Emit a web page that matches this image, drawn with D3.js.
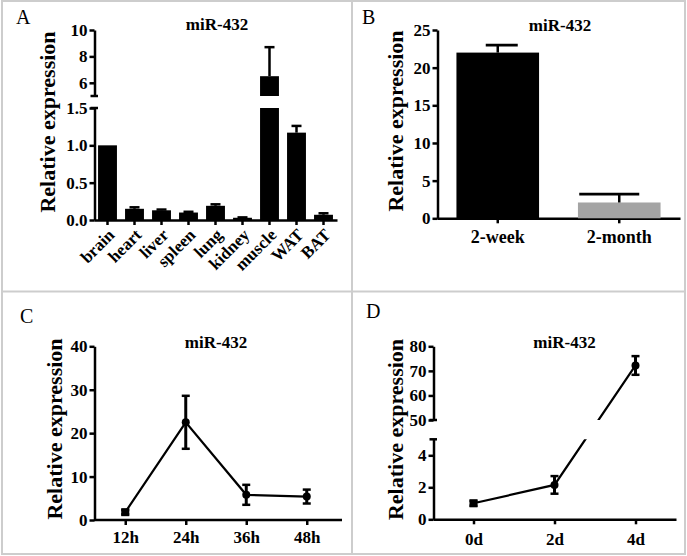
<!DOCTYPE html>
<html><head><meta charset="utf-8">
<script src="https://cdn.jsdelivr.net/npm/d3@7"></script>
<style>
body{margin:0;background:#fff}
svg{display:block}
svg text{font-family:"Liberation Serif","Times New Roman",serif;}
</style>
</head><body><svg id="c" width="687" height="556"></svg>
<script>
// ---------- DATA ----------
const tissues = ["brain","heart","liver","spleen","lung","kidney","muscle","WAT","BAT"];
const tissueValues = [1.0, 0.15, 0.13, 0.10, 0.19, 0.03, 6.5, 1.17, 0.07];
const tissueErrors = [0, 0.02, 0.01, 0.01, 0.02, 0.005, 2.2, 0.09, 0.02];

const ageGroups = ["2-week", "2-month"];
const ageValues = [22.0, 2.1];
const ageErrors = [1.0, 1.1];

const hours = ["12h", "24h", "36h", "48h"];
const hourValues = [1.8, 22.5, 5.8, 5.4];
const hourErrors = [0.5, 6.1, 2.3, 1.6];

const days = ["0d", "2d", "4d"];
const dayValues = [1.0, 2.15, 72.2];
const dayErrors = [0.15, 0.55, 3.8];

const ticksAUpper = [6, 8, 10];
const ticksALower = [0, 0.5, 1.0, 1.5];
const ticksB = [0, 5, 10, 15, 20, 25];
const ticksC = [0, 10, 20, 30, 40];
const ticksDUpper = [50, 60, 70, 80];
const ticksDLower = [0, 2, 4];

const titleText = "miR-432";
const yLabelText = "Relative expression";

// ---------- SETUP ----------
const FONT = "Liberation Serif";
const svg = d3.select("#c");
const border = "#cdcdcd";

svg.append("rect").attr("x", 2).attr("y", 1).attr("width", 683).attr("height", 553)
  .attr("fill", "none").attr("stroke", border).attr("stroke-width", 2);
svg.append("line").attr("x1", 352).attr("x2", 352).attr("y1", 1).attr("y2", 554)
  .attr("stroke", border).attr("stroke-width", 2);
svg.append("line").attr("x1", 2).attr("x2", 685).attr("y1", 291.5).attr("y2", 291.5)
  .attr("stroke", border).attr("stroke-width", 2);

function styleAxis(g, fs) {
  g.attr("font-family", FONT).attr("font-size", fs).attr("font-weight", "bold");
  g.selectAll(".domain").attr("stroke", "#000").attr("stroke-width", 2.5);
  g.selectAll(".tick line").attr("stroke", "#000").attr("stroke-width", 2.5);
  g.selectAll(".tick text").attr("fill", "#000");
}
function yAxis(scale, vals, fmt, x, fs) {
  const g = svg.append("g").attr("transform", `translate(${x},0)`)
    .call(d3.axisLeft(scale).tickValues(vals).tickFormat(fmt).tickSize(5).tickPadding(2).tickSizeOuter(0));
  styleAxis(g, fs);
  return g;
}
function hline(x1, x2, y, w) {
  svg.append("line").attr("x1", x1).attr("x2", x2).attr("y1", y).attr("y2", y)
    .attr("stroke", "#000").attr("stroke-width", w);
}
function vline(x, y1, y2, w) {
  svg.append("line").attr("x1", x).attr("x2", x).attr("y1", y1).attr("y2", y2)
    .attr("stroke", "#000").attr("stroke-width", w);
}
function text(t, x, y, fs, opts = {}) {
  return svg.append("text").attr("x", x).attr("y", y).text(t)
    .attr("font-family", FONT).attr("font-size", fs)
    .attr("font-weight", opts.weight || "bold")
    .attr("text-anchor", opts.anchor || "start").attr("fill", "#000");
}
function yLabel(x, y, fs) {
  svg.append("text").attr("transform", `translate(${x},${y}) rotate(-90)`)
    .attr("text-anchor", "middle").attr("font-family", FONT).attr("font-size", fs)
    .attr("font-weight", "bold").attr("fill", "#000").text(yLabelText);
}

// ---------- PANEL A ----------
const yAUp = d3.scaleLinear().domain([5, 10]).range([96, 30]);
const yALow = d3.scaleLinear().domain([0, 1.5]).range([220, 108]);
const xA = d3.scaleBand().domain(tissues).range([94, 337]).paddingInner(0.3).paddingOuter(0.15);
const axA = 94.5;
yAxis(yAUp, ticksAUpper, d3.format("d"), axA, 17);
yAxis(yALow, ticksALower, d3.format(".1f"), axA, 17);
hline(axA - 4, axA + 3.5, yAUp(5), 2.5);
hline(axA - 4, axA + 3.5, yALow(1.5), 2.5);

const gxA = svg.append("g").attr("transform", `translate(0,${yALow(0)})`)
  .call(d3.axisBottom(xA).tickSize(5).tickSizeOuter(0));
styleAxis(gxA, 17);
gxA.selectAll(".tick text").attr("text-anchor", "end").attr("dy", null)
  .attr("y", 0).attr("transform", "translate(8,16) rotate(-45)");

tissues.forEach((t, i) => {
  const v = tissueValues[i], e = tissueErrors[i];
  const x0 = xA(t), w = xA.bandwidth(), cx = x0 + w / 2;
  if (v <= 1.5) {
    svg.append("rect").attr("x", x0).attr("y", yALow(v)).attr("width", w)
      .attr("height", yALow(0) - yALow(v)).attr("fill", "#000");
    if (e > 0) {
      vline(cx, yALow(v), yALow(v + e), 2.5);
      hline(cx - 5, cx + 5, yALow(v + e), 2.5);
    }
  } else {
    svg.append("rect").attr("x", x0).attr("y", yALow(1.5)).attr("width", w)
      .attr("height", yALow(0) - yALow(1.5)).attr("fill", "#000");
    svg.append("rect").attr("x", x0).attr("y", yAUp(v)).attr("width", w)
      .attr("height", yAUp(5) - yAUp(v)).attr("fill", "#000");
    vline(cx, yAUp(v), yAUp(v + e), 2.5);
    hline(cx - 5, cx + 5, yAUp(v + e), 2.5);
  }
});
text(titleText, 217, 29.5, 17, { anchor: "middle" });
text("A", 16, 23.5, 20, { weight: "normal" });
yLabel(55, 122, 22);

// ---------- PANEL B ----------
const yB = d3.scaleLinear().domain([0, 25]).range([218.3, 30]);
const xB = d3.scaleBand().domain(ageGroups).range([437, 680]).paddingInner(0.32).paddingOuter(0.16);
const axB = 437.5;
yAxis(yB, ticksB, d3.format("d"), axB, 17);
const gxB = svg.append("g").attr("transform", `translate(0,${yB(0)})`)
  .call(d3.axisBottom(xB).tickSize(5).tickPadding(7).tickSizeOuter(0));
styleAxis(gxB, 18);
const barColorsB = ["#000000", "#a4a4a4"];
const capB = [32, 60];
const capShiftB = [4, -10];
ageGroups.forEach((g, i) => {
  const v = ageValues[i], e = ageErrors[i];
  const x0 = xB(g), w = xB.bandwidth(), cx = x0 + w / 2;
  svg.append("rect").attr("x", x0).attr("y", yB(v)).attr("width", w)
    .attr("height", yB(0) - yB(v)).attr("fill", barColorsB[i]);
  vline(cx, yB(v), yB(v + e), 2.5);
  const cc = cx + capShiftB[i];
  hline(cc - capB[i] / 2, cc + capB[i] / 2, yB(v + e), 2.8);
});
text(titleText, 560, 30.5, 17, { anchor: "middle" });
text("B", 362, 23.5, 20, { weight: "normal" });
yLabel(403, 121, 22);

// ---------- PANEL C ----------
const yC = d3.scaleLinear().domain([0, 40]).range([520, 346.3]);
const xC = d3.scalePoint().domain(hours).range([95, 337]).padding(0.5);
const axC = 94.5;
yAxis(yC, ticksC, d3.format("d"), axC, 17);
const gxC = svg.append("g").attr("transform", `translate(0,${yC(0)})`)
  .call(d3.axisBottom(xC).tickSize(5).tickPadding(6).tickSizeOuter(0));
styleAxis(gxC, 17);
gxC.select(".domain").remove();
hline(94, 342, yC(0), 2.5);
svg.append("path").datum(hours.map((h, i) => [xC(h), yC(hourValues[i])]))
  .attr("d", d3.line()).attr("fill", "none").attr("stroke", "#000").attr("stroke-width", 2.2);
hours.forEach((h, i) => {
  const cx = xC(h), v = hourValues[i], e = hourErrors[i];
  vline(cx, yC(v - e), yC(v + e), 3);
  hline(cx - 4, cx + 4, yC(v + e), 2.5);
  hline(cx - 4, cx + 4, yC(v - e), 2.5);
  if (i === 0) svg.append("rect").attr("x", cx - 4).attr("y", yC(v) - 4).attr("width", 8).attr("height", 8).attr("fill", "#000");
  else svg.append("circle").attr("cx", cx).attr("cy", yC(v)).attr("r", 4).attr("fill", "#000");
});
text(titleText, 216, 348, 17, { anchor: "middle" });
text("C", 20, 323, 20, { weight: "normal" });
yLabel(61.5, 429, 22);

// ---------- PANEL D ----------
const yDLow = d3.scaleLinear().domain([0, 5]).range([519.3, 439.3]);
const yDUp = d3.scaleLinear().domain([50, 80]).range([420, 346.3]);
const yD = v => (v <= 5 ? yDLow(v) : yDUp(v));
const xD = d3.scalePoint().domain(days).range([433, 676]).padding(0.5);
const axD = 433.5;
yAxis(yDUp, ticksDUpper, d3.format("d"), axD, 17);
yAxis(yDLow, ticksDLower, d3.format("d"), axD, 17);
hline(axD - 4, axD + 3.5, yDUp(50), 2.5);
hline(axD - 4, axD + 3.5, yDLow(5), 2.5);
const gxD = svg.append("g").attr("transform", `translate(0,${yDLow(0)})`)
  .call(d3.axisBottom(xD).tickSize(5).tickPadding(9).tickSizeOuter(0));
styleAxis(gxD, 17);

const defs = svg.append("defs");
const cp = defs.append("clipPath").attr("id", "dclip");
cp.append("rect").attr("x", 433).attr("y", 0).attr("width", 260).attr("height", yDUp(50));
cp.append("rect").attr("x", 433).attr("y", yDLow(5)).attr("width", 260).attr("height", 200);
svg.append("path").datum(days.map((d, i) => [xD(d), yD(dayValues[i])]))
  .attr("d", d3.line()).attr("fill", "none").attr("stroke", "#000").attr("stroke-width", 2.2)
  .attr("clip-path", "url(#dclip)");
days.forEach((d, i) => {
  const cx = xD(d), v = dayValues[i], e = dayErrors[i];
  vline(cx, yD(v - e), yD(v + e), 3);
  hline(cx - 4, cx + 4, yD(v + e), 2.5);
  hline(cx - 4, cx + 4, yD(v - e), 2.5);
  if (i === 0) svg.append("rect").attr("x", cx - 4).attr("y", yD(v) - 4).attr("width", 8).attr("height", 8).attr("fill", "#000");
  else svg.append("circle").attr("cx", cx).attr("cy", yD(v)).attr("r", 4).attr("fill", "#000");
});
text(titleText, 564.5, 347.5, 17, { anchor: "middle" });
text("D", 366, 318, 20, { weight: "normal" });
yLabel(403, 429.5, 22);
</script>
</body></html>
